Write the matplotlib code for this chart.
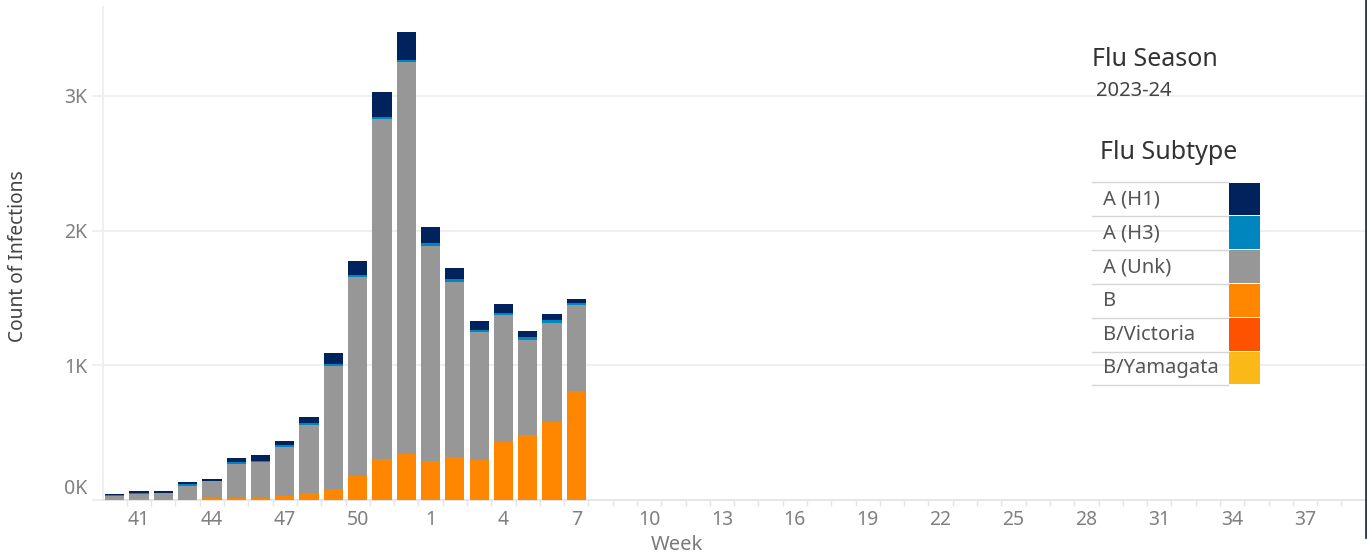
import numpy as np
import matplotlib.pyplot as plt
from matplotlib.lines import Line2D
from matplotlib.patches import Rectangle
from matplotlib.transforms import ScaledTranslation

plt.rcParams['font.family'] = ['Noto Sans', 'DejaVu Sans']

# season weeks 40..52 then 1..39
all_weeks = list(range(40, 53)) + list(range(1, 40))

# reported weeks (40 .. 7)
data_weeks = [40, 41, 42, 43, 44, 45, 46, 47, 48, 49, 50, 51, 52, 1, 2, 3, 4, 5, 6, 7]
b_yamagata = [0] * 20
b_victoria = [0] * 20
b_other = [2, 5, 3, 2, 17, 18, 17, 32, 52, 81, 180, 304, 343, 289, 318, 299, 432, 481, 580, 807]
a_unk = [30, 42, 49, 102, 124, 249, 264, 361, 504, 912, 1479, 2528, 2909, 1600, 1304, 945, 938, 704, 731, 637]
a_h3 = [3, 5, 0, 15, 2, 15, 7, 15, 15, 15, 15, 8, 15, 17, 17, 15, 15, 22, 22, 15]
a_h1 = [10, 15, 15, 14, 15, 29, 45, 29, 44, 81, 104, 190, 207, 124, 87, 67, 67, 45, 45, 30]

subtypes = ['A (H1)', 'A (H3)', 'A (Unk)', 'B', 'B/Victoria', 'B/Yamagata']
colors = {'A (H1)': '#00235e', 'A (H3)': '#0086bf', 'A (Unk)': '#979797',
          'B': '#ff8700', 'B/Victoria': '#ff5200', 'B/Yamagata': '#fbb917'}

W, H = 1367, 557
fig = plt.figure(figsize=(W / 100, H / 100), dpi=100)
ax = fig.add_axes([102.6 / W, 1 - 500 / H, (1365.7 - 102.6) / W, (500 - 7) / H])

x = np.array([all_weeks.index(w) for w in data_weeks])
stack = [('B/Yamagata', b_yamagata), ('B/Victoria', b_victoria), ('B', b_other),
         ('A (Unk)', a_unk), ('A (H3)', a_h3), ('A (H1)', a_h1)]
bottom = np.zeros(len(x))
for name, vals in stack:
    vals = np.array(vals, dtype=float)
    ax.bar(x, vals, width=0.79, bottom=bottom, color=colors[name], linewidth=0, zorder=3)
    bottom += vals

ax.set_xlim(-0.5, len(all_weeks) - 0.5)
ax.set_ylim(0, 3660)

# axes styling
grid_c = '#efefef'
ax.set_yticks([0, 1000, 2000, 3000])
ax.set_yticklabels(['0K', '1K', '2K', '3K'])
ax.yaxis.grid(True, color=grid_c, lw=1.4, zorder=0)
ax.tick_params(axis='y', length=8, color=grid_c, width=1.4, labelsize=14,
               labelcolor='#808080', pad=3)
zero_lab = ax.get_yticklabels()[0]
zero_lab.set_transform(zero_lab.get_transform() + ScaledTranslation(0, 13 / 100, fig.dpi_scale_trans))

maj = list(range(1, len(all_weeks), 3))
ax.set_xticks(maj)
ax.set_xticklabels([str(all_weeks[i]) for i in maj])
ax.set_xticks(np.arange(0.5, len(all_weeks) - 0.5, 1), minor=True)
ax.tick_params(axis='x', which='major', length=0, labelsize=14, labelcolor='#808080', pad=7)
ax.tick_params(axis='x', which='minor', length=4, color='#e4e4e4', width=1)

for s in ['top', 'right']:
    ax.spines[s].set_visible(False)
ax.spines['left'].set_color(grid_c)
ax.spines['left'].set_linewidth(1.4)
ax.spines['bottom'].set_color('#e6e6e6')
ax.spines['bottom'].set_linewidth(1.4)

fig.text(18 / W, 1 - 256 / H, 'Count of Infections', rotation=90, ha='center', va='center',
         fontsize=13.8, color='#444444')
fig.text(677 / W, 1 - 545 / H, 'Week', ha='center', va='center', fontsize=14.5, color='#7a7a7a')

# legend area
fig.text(1092 / W, 1 - 66 / H, 'Flu Season', fontsize=18, color='#333333', va='baseline')
fig.text(1096 / W, 1 - 96 / H, '2023-24', fontsize=14.5, color='#444444', va='baseline')
fig.text(1100 / W, 1 - 159 / H, 'Flu Subtype', fontsize=18, color='#333333', va='baseline')

row_top = 182.5
row_h = 33.8
fig.add_artist(Line2D([1092 / W, 1228 / W], [1 - row_top / H] * 2, color='#d6d6d6', lw=1))
for k, name in enumerate(subtypes):
    y0 = row_top + k * row_h
    y1 = y0 + row_h
    fig.add_artist(Rectangle((1229 / W, 1 - (y1 - 1) / H), 31 / W, (row_h - 1) / H,
                             color=colors[name], lw=0))
    fig.add_artist(Line2D([1092 / W, 1228 / W], [1 - y1 / H] * 2, color='#d6d6d6', lw=1))
    fig.text(1103 / W, 1 - (y0 + row_h / 2) / H, name, fontsize=14.5, color='#555555', va='center')

# dashboard edge
fig.add_artist(Line2D([1365.5 / W] * 2, [1, 1 - 537 / H], color='#1d3c6b', lw=2))

fig.savefig('out.png', dpi=100)
